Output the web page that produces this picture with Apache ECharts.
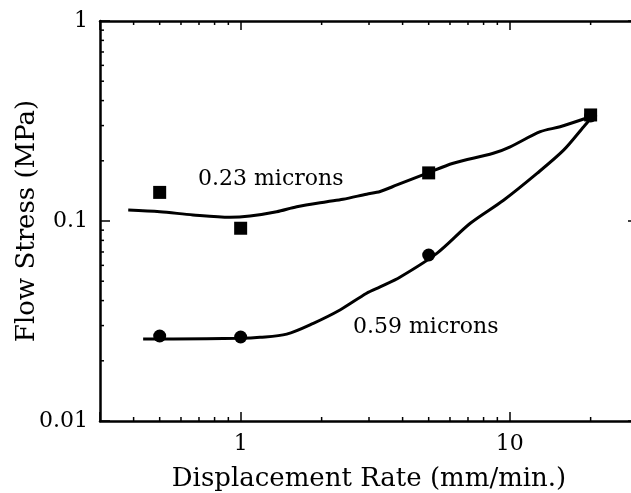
<!DOCTYPE html>
<html>
<head>
<meta charset="utf-8">
<script src="https://cdn.jsdelivr.net/npm/echarts@6/dist/echarts.min.js"></script>
<style>
  html, body { margin: 0; padding: 0; background: #fff; }
  #flow-stress-chart { width: 631px; height: 493px; }
</style>
</head>
<body>
<div id="flow-stress-chart"></div>
<script>
// measured points (displacement rate mm/min, flow stress MPa)
const squares023 = [[0.5, 0.139], [1, 0.092], [5, 0.174], [20, 0.339]]
const circles059 = [[0.5, 0.0266], [1, 0.0263], [5, 0.0676], [20, 0.335]]

// hand drawn fit curves
const curve023 = [
  [0.382, 0.1135], [0.501, 0.1113], [0.665, 0.1072], [0.912, 0.1043], [1.083, 0.1059],
  [1.361, 0.1113], [1.616, 0.1179], [2.09, 0.1249], [2.4, 0.1284], [2.94, 0.1362],
  [3.3, 0.1405], [3.81, 0.1514], [4.92, 0.1732], [6.17, 0.1943], [8.69, 0.218],
  [10.05, 0.235], [13.0, 0.2796], [15.4, 0.296], [19.95, 0.332]
]
const curve059 = [
  [0.434, 0.0257], [0.561, 0.0257], [0.994, 0.0259], [1.18, 0.0262], [1.483, 0.0272],
  [1.863, 0.0308], [2.34, 0.0359], [2.94, 0.0435], [3.3, 0.0468], [3.92, 0.0525],
  [5.36, 0.0689], [7.14, 0.0974], [9.49, 0.127], [12.64, 0.173], [15.87, 0.226],
  [18.84, 0.296], [20.25, 0.332]
]

// tick labels and minor tick positions
const xLabels = [1, 10]
const yLabels = [0.01, 0.1, 1]
const xMinor = [0.4, 0.5, 0.6, 0.7, 0.8, 0.9, 2, 3, 4, 5, 6, 7, 8, 9, 20]
const yMinor = [0.02, 0.03, 0.04, 0.05, 0.06, 0.07, 0.08, 0.09, 0.2, 0.3, 0.4, 0.5, 0.6, 0.7, 0.8, 0.9]

const FONT = 'DejaVu Serif'
const MINOR_LEN = 4

const myChart = echarts.init(document.getElementById('flow-stress-chart'), null, { renderer: 'canvas' })

function xAx (pos, showLabel, extra) {
  return Object.assign({
    type: 'log',
    min: 0.3,
    max: 30,
    position: pos,
    axisLine: { show: true, lineStyle: { color: '#000', width: 2.5 } },
    axisTick: { show: true, inside: true, length: 9, lineStyle: { color: '#000', width: 1.5 } },
    axisLabel: showLabel
      ? { show: true, customValues: xLabels, margin: 12, color: '#000', fontFamily: FONT, fontSize: 22, formatter: v => String(v) }
      : { show: false },
    splitLine: { show: false },
    minorTick: { show: false }
  }, extra || {})
}

function yAx (pos, showLabel, extra) {
  return Object.assign({
    type: 'log',
    min: 0.01,
    max: 1,
    position: pos,
    axisLine: { show: true, lineStyle: { color: '#000', width: 2.5 } },
    axisTick: { show: true, inside: true, length: 10, lineStyle: { color: '#000', width: 1.5 } },
    axisLabel: showLabel
      ? { show: true, customValues: yLabels, margin: 12, color: '#000', fontFamily: FONT, fontSize: 22, formatter: v => String(v) }
      : { show: false },
    splitLine: { show: false },
    minorTick: { show: false }
  }, extra || {})
}

// short inward tick marks on both opposite edges of the plot
function minorTickItem (horizontal) {
  return function (params, api) {
    const cs = params.coordSys
    const p = api.coord([api.value(0), api.value(1)])
    const st = { stroke: '#000', lineWidth: 1.5 }
    if (horizontal) {
      const yb = cs.y + cs.height
      return {
        type: 'group',
        children: [
          { type: 'line', shape: { x1: p[0], y1: yb, x2: p[0], y2: yb - MINOR_LEN }, style: st },
          { type: 'line', shape: { x1: p[0], y1: cs.y, x2: p[0], y2: cs.y + MINOR_LEN }, style: st }
        ]
      }
    }
    const xr = cs.x + cs.width
    return {
      type: 'group',
      children: [
        { type: 'line', shape: { x1: cs.x, y1: p[1], x2: cs.x + MINOR_LEN, y2: p[1] }, style: st },
        { type: 'line', shape: { x1: xr, y1: p[1], x2: xr - MINOR_LEN, y2: p[1] }, style: st }
      ]
    }
  }
}

const option = {
  animation: false,
  backgroundColor: '#fff',
  grid: { left: 100, top: 21, right: -7, bottom: 72, outerBoundsMode: 'none' },
  xAxis: [
    xAx('bottom', true, {
      name: 'Displacement Rate (mm/min.)',
      nameLocation: 'middle',
      nameGap: 45,
      nameMoveOverlap: false,
      nameTextStyle: { color: '#000', fontFamily: FONT, fontSize: 26 }
    }),
    xAx('top', false)
  ],
  yAxis: [
    yAx('left', true, {
      name: 'Flow Stress (MPa)',
      nameLocation: 'middle',
      nameGap: 60,
      nameMoveOverlap: false,
      nameTextStyle: { color: '#000', fontFamily: FONT, fontSize: 26 }
    }),
    yAx('right', false)
  ],
  graphic: [
    {
      type: 'text',
      left: 198,
      top: 168,
      style: { text: '0.23 microns', fill: '#000', font: '22px "DejaVu Serif"' }
    },
    {
      type: 'text',
      left: 353,
      top: 316,
      style: { text: '0.59 microns', fill: '#000', font: '22px "DejaVu Serif"' }
    }
  ],
  series: [
    {
      name: 'x minor ticks',
      type: 'custom',
      silent: true,
      clip: false,
      renderItem: minorTickItem(true),
      data: xMinor.map(v => [v, 0.1])
    },
    {
      name: 'y minor ticks',
      type: 'custom',
      silent: true,
      clip: false,
      renderItem: minorTickItem(false),
      data: yMinor.map(v => [1, v])
    },
    {
      name: '0.23 fit',
      type: 'line',
      data: curve023,
      smooth: 0.3,
      showSymbol: false,
      lineStyle: { color: '#000', width: 3 }
    },
    {
      name: '0.59 fit',
      type: 'line',
      data: curve059,
      smooth: 0.3,
      showSymbol: false,
      lineStyle: { color: '#000', width: 3 }
    },
    {
      name: '0.59 microns',
      type: 'scatter',
      data: circles059,
      symbol: 'circle',
      symbolSize: 13,
      itemStyle: { color: '#000', opacity: 1 }
    },
    {
      name: '0.23 microns',
      type: 'scatter',
      data: squares023,
      symbol: 'rect',
      symbolSize: 13,
      itemStyle: { color: '#000', opacity: 1 }
    }
  ]
}

myChart.setOption(option)
</script>
</body>
</html>
